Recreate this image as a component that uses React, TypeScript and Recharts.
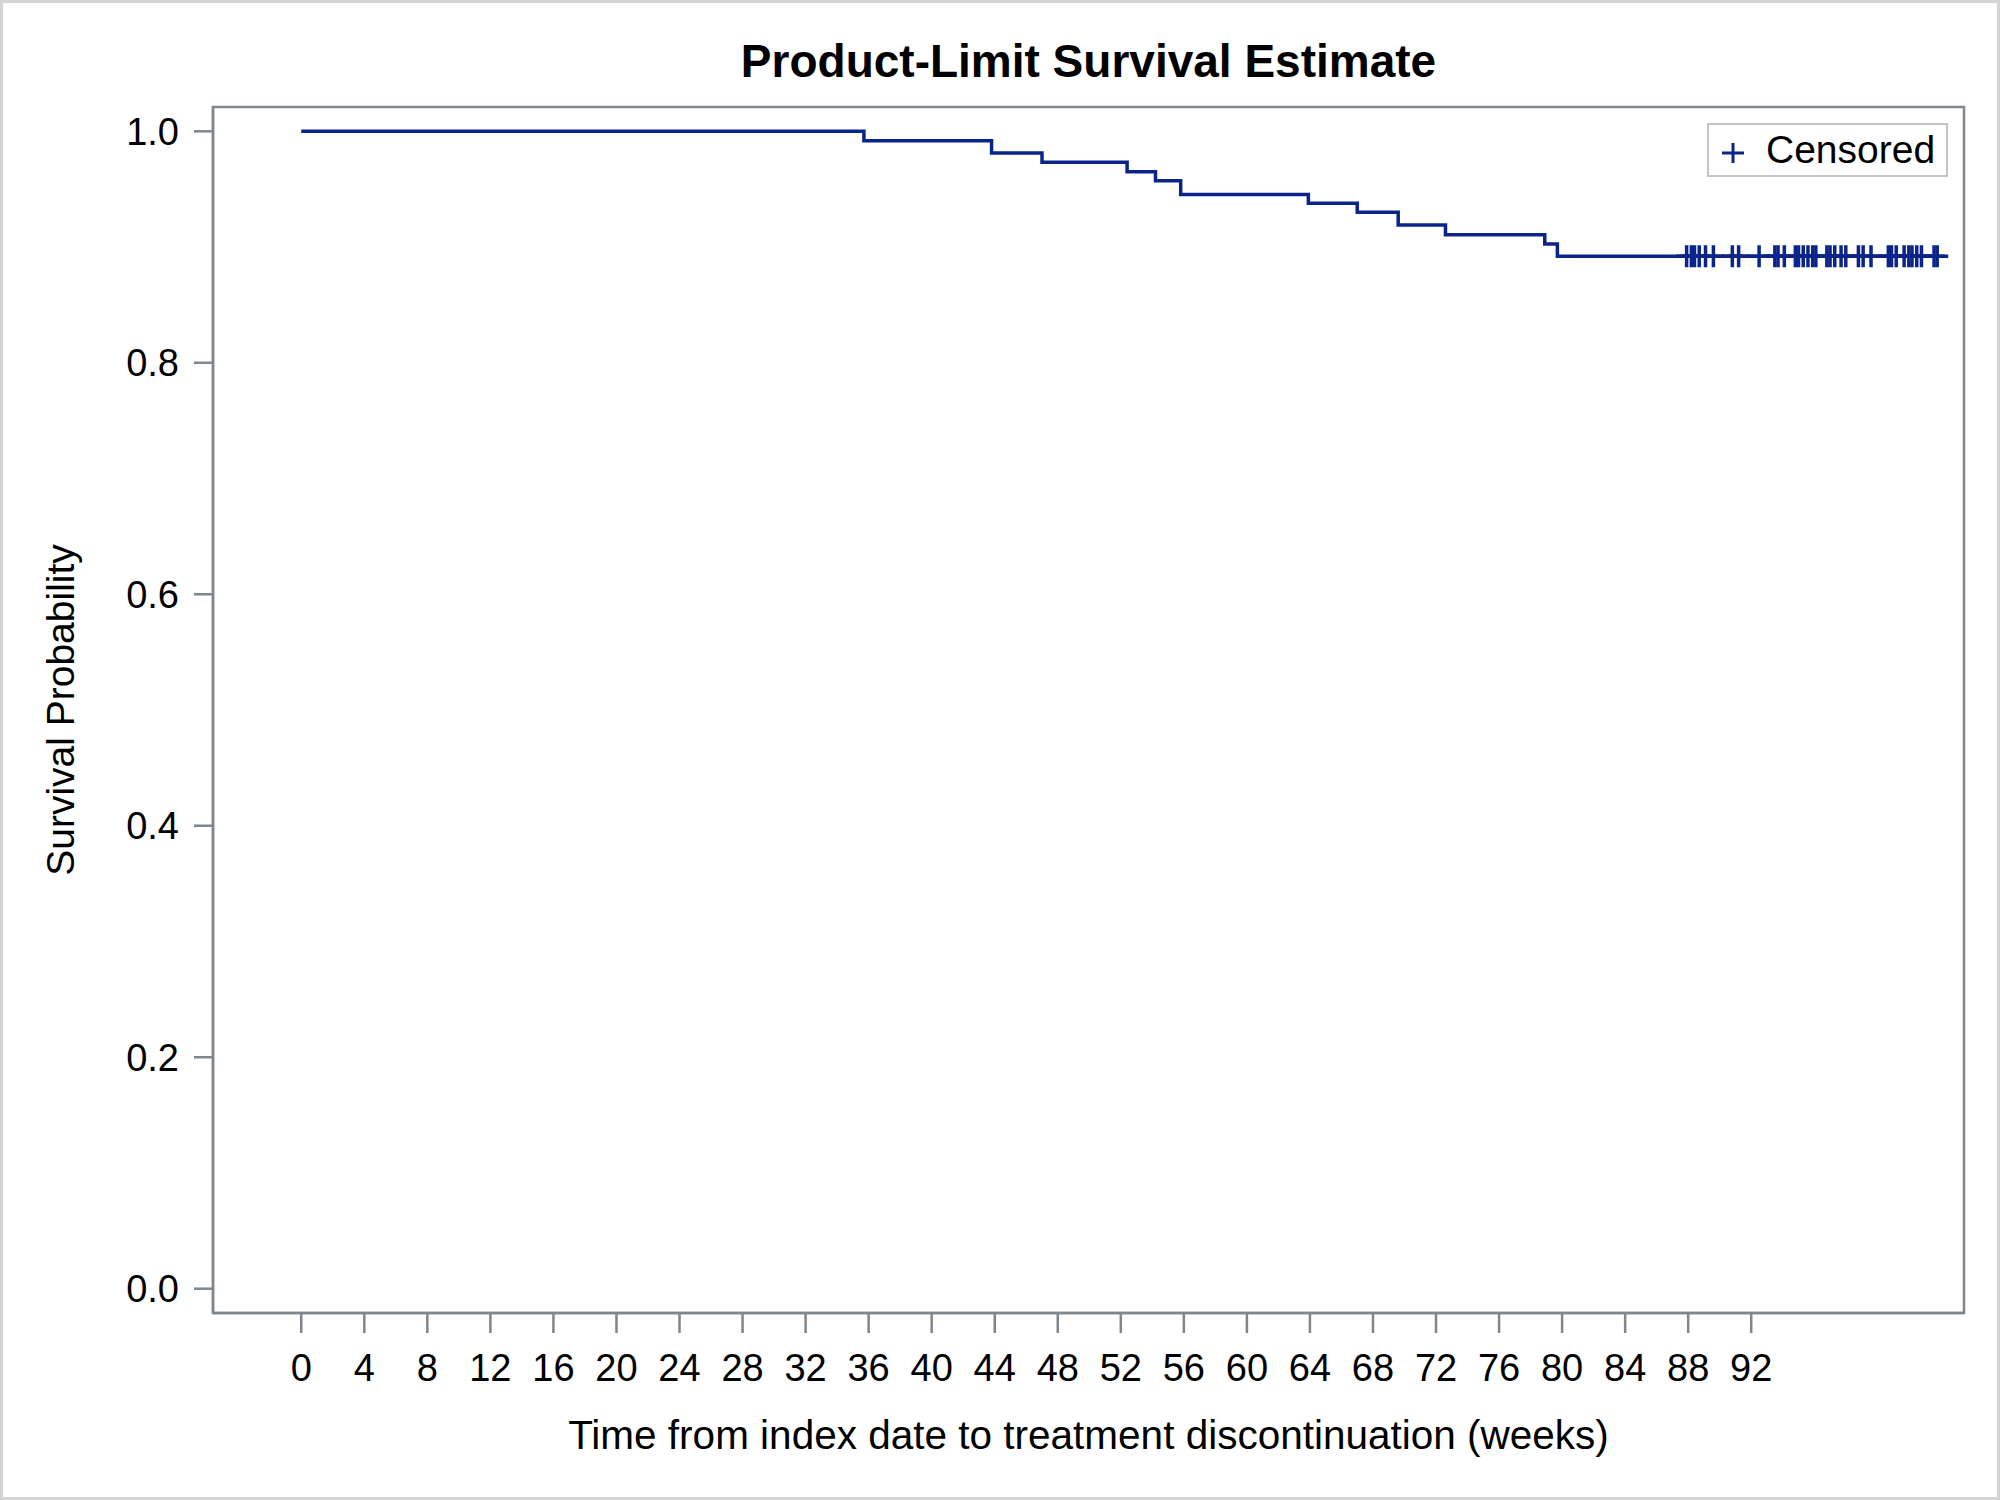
import {
  ComposedChart,
  Line,
  Scatter,
  XAxis,
  YAxis,
  ReferenceArea,
  Legend,
} from "recharts";

// Kaplan-Meier step values
const eventWeeks = [0, 35.7, 43.8, 47.0, 52.4, 54.2, 55.8, 63.9, 67.0, 69.6, 72.6, 78.9, 79.7, 103.8];
const survivalProb = [1.0, 0.9919, 0.9813, 0.9732, 0.9651, 0.9573, 0.9453, 0.9378, 0.93, 0.919, 0.9107, 0.9027, 0.892, 0.892];

// censored observations (all after the last event)
const censoredWeeks = [
  87.9, 88.2, 88.4, 88.7, 89.1, 89.6, 90.8, 91.2, 92.5, 93.5, 93.7, 94.1,
  94.8, 95.0, 95.3, 95.6, 95.9, 96.1, 96.8, 97.0, 97.3, 97.7, 98.0, 98.8,
  99.1, 99.6, 100.7, 100.9, 101.2, 101.7, 102.0, 102.2, 102.5, 102.8, 103.6, 103.8,
];

const xTicks = [0, 4, 8, 12, 16, 20, 24, 28, 32, 36, 40, 44, 48, 52, 56, 60, 64, 68, 72, 76, 80, 84, 88, 92];
const yTicks = [0, 0.2, 0.4, 0.6, 0.8, 1.0];
const xDomain = [-5.6, 105.5];
const yDomain = [-0.021, 1.021];

const title = "Product-Limit Survival Estimate";
const xTitle = "Time from index date to treatment discontinuation (weeks)";
const yTitle = "Survival Probability";
const legendLabel = "Censored";

const FONT = '"Liberation Sans", Arial, Helvetica, sans-serif';
const LINE = "#0a248a";
const FRAME = "#7f868c";

const curve = eventWeeks.map((week, i) => ({ week, survival: survivalProb[i] }));
const lastSurvival = survivalProb[survivalProb.length - 1];
const censored = censoredWeeks.map((week) => ({ week, survival: lastSurvival }));

function PlusMark(props: any) {
  const { cx, cy } = props;
  if (cx == null || cy == null) return null;
  return (
    <path
      d={`M${cx - 11},${cy}H${cx + 11}M${cx},${cy - 11}V${cy + 11}`}
      stroke={LINE}
      strokeWidth={3.5}
      fill="none"
    />
  );
}

function renderXLabel(props: any) {
  const vb = props.viewBox || { x: 213, y: 1313, width: 1751, height: 187 };
  return (
    <text
      x={vb.x + vb.width / 2}
      y={vb.y + 136}
      textAnchor="middle"
      fontFamily={FONT}
      fontSize={40.5}
      fill="#000"
    >
      {xTitle}
    </text>
  );
}

function renderYLabel(props: any) {
  const vb = props.viewBox || { x: 0, y: 107, width: 213, height: 1206 };
  const cx = vb.x + 74;
  const cy = vb.y + vb.height / 2;
  return (
    <text
      x={cx}
      y={cy}
      transform={`rotate(-90 ${cx} ${cy})`}
      textAnchor="middle"
      fontFamily={FONT}
      fontSize={39}
      fill="#000"
    >
      {yTitle}
    </text>
  );
}

function CensoredLegend() {
  return (
    <svg width={241} height={54} style={{ display: "block" }}>
      <rect x={1} y={1} width={239} height={52} fill="#fff" stroke="#c4c4c4" strokeWidth={2} />
      <path d="M15,30H37M26,20V40" stroke={LINE} strokeWidth={3} fill="none" />
      <text x={59} y={40} fontFamily={FONT} fontSize={39} fill="#000">
        {legendLabel}
      </text>
    </svg>
  );
}

export default function App() {
  return (
    <div
      style={{
        position: "absolute",
        left: 0,
        top: 0,
        width: 2000,
        height: 1500,
        background: "#fff",
        outline: "3px solid #d4d4d4",
        outlineOffset: -3,
      }}
    >
      <div
        style={{
          position: "absolute",
          left: 213,
          top: 38,
          width: 1751,
          textAlign: "center",
          fontFamily: FONT,
          fontWeight: "bold",
          fontSize: 46,
          lineHeight: "46px",
          color: "#000",
        }}
      >
        {title}
      </div>
      <ComposedChart
        width={2000}
        height={1500}
        margin={{ top: 107, right: 36, bottom: 0, left: 0 }}
      >
        <XAxis
          type="number"
          dataKey="week"
          domain={xDomain}
          ticks={xTicks}
          interval={0}
          allowDataOverflow
          height={187}
          tickSize={20}
          tickMargin={21}
          axisLine={{ stroke: FRAME, strokeWidth: 2.5 }}
          tickLine={{ stroke: FRAME, strokeWidth: 2.5 }}
          tick={{ fontSize: 38, fill: "#000", fontFamily: FONT }}
          label={renderXLabel}
        />
        <YAxis
          type="number"
          dataKey="survival"
          domain={yDomain}
          ticks={yTicks}
          interval={0}
          allowDataOverflow
          width={213}
          tickSize={19}
          tickMargin={15}
          tickFormatter={(v) => v.toFixed(1)}
          axisLine={{ stroke: FRAME, strokeWidth: 2.5 }}
          tickLine={{ stroke: FRAME, strokeWidth: 2.5 }}
          tick={{ fontSize: 38, fill: "#000", fontFamily: FONT }}
          label={renderYLabel}
        />
        <ReferenceArea
          x1={xDomain[0]}
          x2={xDomain[1]}
          y1={yDomain[0]}
          y2={yDomain[1]}
          fill="none"
          stroke={FRAME}
          strokeWidth={2.5}
          ifOverflow="visible"
        />
        <Line
          data={curve}
          dataKey="survival"
          type="stepAfter"
          stroke={LINE}
          strokeWidth={3.5}
          dot={false}
          activeDot={false}
          isAnimationActive={false}
        />
        <Scatter
          data={censored}
          dataKey="survival"
          shape={PlusMark}
          isAnimationActive={false}
        />
        <Legend
          layout="vertical"
          align="center"
          verticalAlign="middle"
          content={() => <CensoredLegend />}
          wrapperStyle={{ top: 123, left: 1707, width: 241, height: 54 }}
        />
      </ComposedChart>
    </div>
  );
}
